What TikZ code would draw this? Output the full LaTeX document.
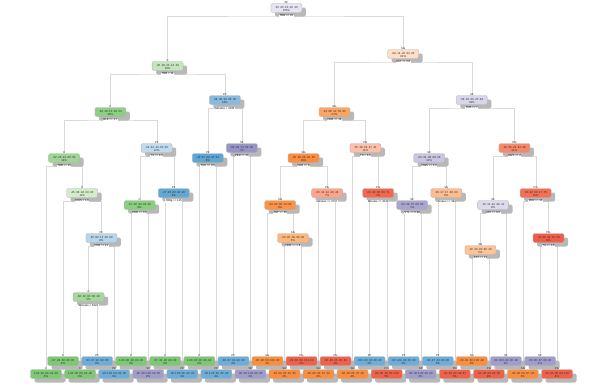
\documentclass[tikz,border=0pt]{standalone}
\usepackage{fontspec}
\setmainfont{Liberation Sans}
\usetikzlibrary{shadows,backgrounds}
% leaf colours
\definecolor{gLeaf}{HTML}{7CC873}
\definecolor{bLeaf}{HTML}{6DADDA}
\definecolor{pLeaf}{HTML}{A19DCB}
\definecolor{oLeaf}{HTML}{FB8E3E}
\definecolor{rLeaf}{HTML}{F0614A}
% internal node colours
\definecolor{cA}{HTML}{E6E4F1}
\definecolor{cB}{HTML}{C4E6BC}
\definecolor{cC}{HTML}{FDDEC6}
\definecolor{cD}{HTML}{8ECF84}
\definecolor{cE}{HTML}{86BADF}
\definecolor{cF}{HTML}{FDA462}
\definecolor{cG}{HTML}{D8D6EA}
\definecolor{cH}{HTML}{A0D695}
\definecolor{cI}{HTML}{C2DAEE}
\definecolor{cJ}{HTML}{5FA6D3}
\definecolor{cK}{HTML}{9894C6}
\definecolor{cL}{HTML}{FC8D3F}
\definecolor{cM}{HTML}{FCC0A8}
\definecolor{cN}{HTML}{C8C6E1}
\definecolor{cO}{HTML}{F8866A}
\definecolor{cP}{HTML}{D1EDCA}
\definecolor{cQ}{HTML}{88CF7E}
\definecolor{cR}{HTML}{62A8D4}
\definecolor{cS}{HTML}{FD9243}
\definecolor{cT}{HTML}{FCA58B}
\definecolor{cU}{HTML}{F36750}
\definecolor{cV}{HTML}{A9A5D0}
\definecolor{cW}{HTML}{FDBC8E}
\definecolor{cX}{HTML}{DCDBEB}
\definecolor{cY}{HTML}{F46F54}
\definecolor{cZ}{HTML}{B8D5EB}
\definecolor{cAA}{HTML}{FDB77D}
\definecolor{cAB}{HTML}{FDC597}
\definecolor{cAC}{HTML}{EF5E48}
\definecolor{cAD}{HTML}{A6D89B}
\newcommand{\tinyf}{\fontsize{2.8}{3}\selectfont}
\tikzset{
  tbox/.style={rectangle, rounded corners=2pt, draw=black!30, line width=0.3pt,
    minimum width=31pt, minimum height=9pt, inner sep=0pt, font=\tinyf, text=black!85,
    drop shadow={shadow xshift=4pt, shadow yshift=-4pt, fill=black!28, opacity=1}},
  tcls/.style={inner sep=0pt, font=\tinyf, text=black!85},
  tpct/.style={inner sep=0pt, font=\tinyf, text=black!85},
  tsplit/.style={fill=white, inner sep=0.4pt, font=\tinyf, text=black},
  edge/.style={draw=black!15, line width=0.35pt}
}
% internal node: name, x, y, colour, class, probs, pct, split
\newcommand{\tn}[8]{%
  \node[tbox, fill=#4] (#1) at (#2,#3) {#6};
  \node[tcls] (#1c) at ([yshift=5.2pt]#1.center) {#5};
  \node[tpct] (#1p) at ([yshift=-2.7pt]#1.center) {#7\%};
  \node[tsplit] (#1s) at ([yshift=-8pt]#1.center) {#8};
}
% leaf: name, x, y, colour, class, probs, pct
\newcommand{\lf}[7]{%
  \node[tbox, fill=#4] (#1) at (#2,#3) {#6};
  \node[tcls] (#1c) at ([yshift=5.2pt]#1.center) {#5};
  \node[tpct] (#1p) at ([yshift=-2.7pt]#1.center) {#7\%};
}
\begin{document}
\begin{tikzpicture}[x=1pt,y=-1pt]
\useasboundingbox (0,0) rectangle (600,386);
% internal nodes
\tn{n1}{286.4}{8}{cA}{SF}{.20 .20 .20 .20 .20}{100}{TRB >= 15}
\tn{n2}{167.6}{66}{cB}{C}{.36 .28 .20 .13 .03}{39}{TRB < 11}
\tn{n3}{403.2}{54}{cC}{SG}{.08 .14 .20 .32 .26}{61}{AST >= 2.6}
\tn{n4}{110.4}{112}{cD}{C}{.54 .18 .15 .09 .04}{26}{BLK >= 1.7}
\tn{n5}{224.9}{100}{cE}{PF}{.08 .46 .38 .08 .00}{13}{Minutes < 2235}
\tn{n6}{334.5}{112}{cF}{SG}{.02 .08 .10 .50 .30}{27}{DRB >= 16}
\tn{n7}{471.8}{100}{cG}{SF}{.06 .18 .30 .20 .26}{34}{TRB >= 7}
\tn{n8}{64.1}{158}{cH}{C}{.62 .25 .13 .00 .00}{14}{TRB >= 15}
\tn{n9}{156.7}{148}{cI}{PF}{.42 .44 .14 .00 .00}{12}{TS >= 0.5}
\tn{n10}{207.8}{158}{cJ}{PF}{.33 .67 .00 .00 .00}{6}{TOV >= 0.5}
\tn{n11}{241.9}{148}{cK}{SF}{.00 .29 .71 .00 .00}{7}{PER >= 25}
\tn{n12}{303.6}{158}{cL}{SG}{.00 .06 .06 .62 .25}{16}{PER >= 8}
\tn{n13}{365.4}{148}{cM}{PG}{.05 .18 .09 .27 .41}{11}{TS < 0.5}
\tn{n14}{429.2}{158}{cN}{SF}{.00 .31 .38 .08 .23}{13}{DWS >= 0.8}
\tn{n15}{514.4}{148}{cO}{PG}{.00 .05 .24 .24 .48}{21}{DWS >= 2}
\tn{n16}{82.2}{193}{cP}{C}{.45 .36 .18 .00 .00}{11}{DWS < 1.6}
\tn{n17}{139.7}{205}{cQ}{C}{.67 .00 .33 .00 .00}{6}{PER >= 6.5}
\tn{n18}{173.8}{193}{cR}{PF}{.17 .83 .00 .00 .00}{6}{ORtg >= 115}
\tn{n19}{280.2}{205}{cS}{SG}{.00 .00 .00 .78 .22}{9}{AST >= 20}
\tn{n20}{327.1}{193}{cT}{PG}{.00 .14 .14 .29 .43}{7}{Minutes >= 2727}
\tn{n21}{378.2}{193}{cU}{PG}{.00 .29 .00 .00 .71}{7}{Minutes >= 3016}
\tn{n22}{412.2}{205}{cV}{SF}{.00 .43 .57 .00 .00}{7}{STL >= 0.98}
\tn{n23}{446.3}{193}{cW}{SG}{.00 .17 .17 .33 .33}{6}{Minutes >= 394}
\tn{n24}{493.1}{205}{cX}{SF}{.00 .11 .44 .33 .11}{9}{AST >= 6.5}
\tn{n25}{535.7}{193}{cY}{PG}{.00 .00 .08 .17 .75}{12}{PER >= 15}
\tn{n26}{101.4}{238}{cZ}{PF}{.25 .62 .12 .00 .00}{8}{PER >= 11}
\tn{n27}{293}{238}{cAA}{SG}{.00 .00 .00 .60 .40}{5}{DRB >= 1.8}
\tn{n28}{480.4}{250}{cAB}{SG}{.00 .20 .00 .60 .20}{5}{AST >= 13}
\tn{n29}{548.5}{238}{cAC}{PG}{.00 .00 .11 .11 .78}{9}{TS >= 0.6}
\tn{n30}{88.6}{297}{cAD}{C}{.60 .40 .00 .00 .00}{5}{Minutes < 2624}
% leaves
\lf{l1}{46}{374}{gLeaf}{C}{1.00 .00 .00 .00 .00}{3}
\lf{l2}{63}{361}{gLeaf}{C}{.67 .33 .00 .00 .00}{3}
\lf{l3}{80.1}{374}{gLeaf}{C}{1.00 .00 .00 .00 .00}{2}
\lf{l4}{97.1}{361}{bLeaf}{PF}{.33 .67 .00 .00 .00}{3}
\lf{l5}{114.1}{374}{bLeaf}{PF}{.00 1.00 .00 .00 .00}{3}
\lf{l6}{131.2}{361}{gLeaf}{C}{1.00 .00 .00 .00 .00}{4}
\lf{l7}{148.2}{374}{pLeaf}{SF}{.00 .00 1.00 .00 .00}{2}
\lf{l8}{165.2}{361}{gLeaf}{C}{.67 .33 .00 .00 .00}{3}
\lf{l9}{182.3}{374}{bLeaf}{PF}{.00 1.00 .00 .00 .00}{3}
\lf{l10}{199.3}{361}{gLeaf}{C}{1.00 .00 .00 .00 .00}{2}
\lf{l11}{216.3}{374}{bLeaf}{PF}{.00 1.00 .00 .00 .00}{4}
\lf{l12}{233.4}{361}{bLeaf}{PF}{.00 .67 .33 .00 .00}{3}
\lf{l13}{250.4}{374}{pLeaf}{SF}{.00 .00 1.00 .00 .00}{4}
\lf{l14}{267.4}{361}{oLeaf}{SG}{.00 .00 .00 1.00 .00}{4}
\lf{l15}{284.5}{374}{oLeaf}{SG}{.00 .00 .00 .67 .33}{3}
\lf{l16}{301.5}{361}{rLeaf}{PG}{.00 .00 .00 .00 1.00}{2}
\lf{l17}{318.5}{374}{oLeaf}{SG}{.00 .00 .00 .67 .33}{3}
\lf{l18}{335.6}{361}{rLeaf}{PG}{.00 .25 .25 .00 .50}{4}
\lf{l19}{352.6}{374}{oLeaf}{SG}{.00 .00 .25 .75 .00}{4}
\lf{l20}{369.6}{361}{bLeaf}{PF}{.00 1.00 .00 .00 .00}{2}
\lf{l21}{386.7}{374}{rLeaf}{PG}{.00 .00 .00 .00 1.00}{5}
\lf{l22}{403.7}{361}{bLeaf}{PF}{.00 1.00 .00 .00 .00}{3}
\lf{l23}{420.7}{374}{pLeaf}{SF}{.00 .00 1.00 .00 .00}{4}
\lf{l24}{437.8}{361}{bLeaf}{PF}{.00 .67 .33 .00 .00}{3}
\lf{l25}{454.8}{374}{rLeaf}{PG}{.00 .00 .00 .33 .67}{3}
\lf{l26}{471.8}{361}{oLeaf}{SG}{.00 .00 .00 1.00 .00}{3}
\lf{l27}{488.9}{374}{rLeaf}{PG}{.00 .00 .00 .50 .50}{2}
\lf{l28}{505.9}{361}{pLeaf}{SF}{.00 .00 1.00 .00 .00}{4}
\lf{l29}{522.9}{374}{oLeaf}{SG}{.00 .00 .00 .67 .33}{3}
\lf{l30}{540.0}{361}{pLeaf}{SF}{.00 .00 .67 .00 .33}{3}
\lf{l31}{557}{374}{rLeaf}{PG}{.00 .00 .00 .00 1.00}{6}
% connectors
\begin{scope}[on background layer]
\fill[white] (0,0) rectangle (600,386);
\foreach \p/\a/\b in {n1/n2/n3, n2/n4/n5, n3/n6/n7, n4/n8/n9, n5/n10/n11,
  n6/n12/n13, n7/n14/n15, n8/l1/n16, n9/n17/n18, n10/l10/l11, n11/l12/l13,
  n12/n19/n20, n13/l19/n21, n14/n22/n23, n15/n24/n25, n16/l2/n26, n17/l6/l7,
  n18/l8/l9, n19/l14/n27, n20/l17/l18, n21/l20/l21, n22/l22/l23, n23/l24/l25,
  n24/n28/l28, n25/l29/n29, n26/n30/l5, n27/l15/l16, n28/l26/l27, n29/l30/l31,
  n30/l3/l4}
  \draw[edge] (\a.north) |- (\p s.center) -| (\b.north);
\end{scope}
\end{tikzpicture}
\end{document}
